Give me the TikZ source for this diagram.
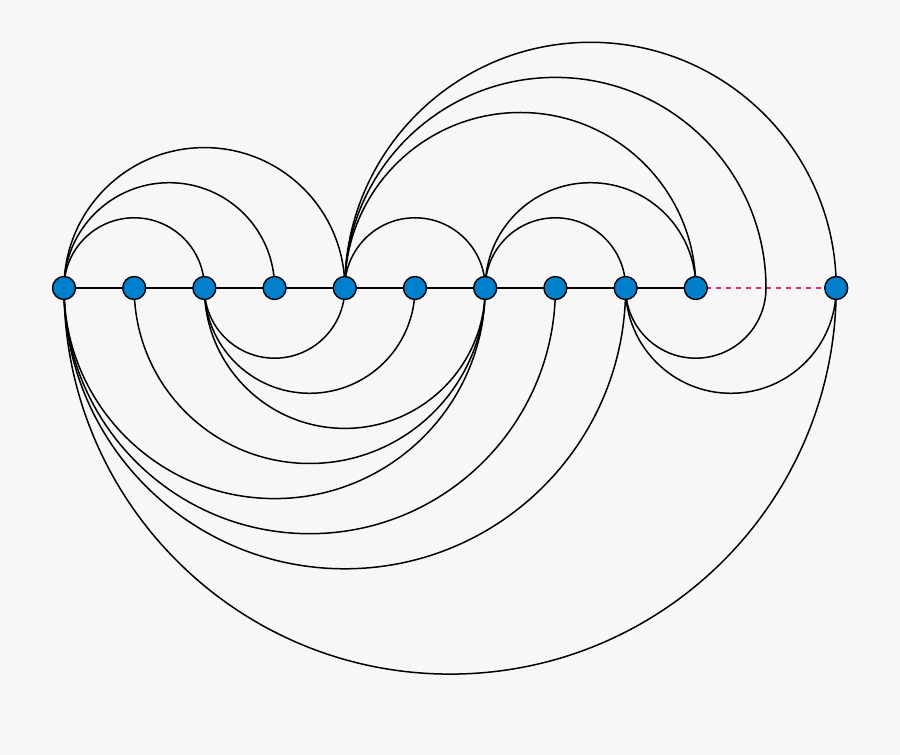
\documentclass[tikz,border=0pt]{standalone}
\definecolor{bg}{HTML}{F7F7F7}
\definecolor{vfill}{HTML}{0080CC}
\definecolor{dashred}{HTML}{D6336C}
\tikzset{
  vertex/.style={circle,draw=black,fill=vfill,line width=1.4pt,minimum size=23pt,inner sep=0pt},
  edge/.style={draw=black,line width=1.5pt},
  ghost/.style={draw=dashred,line width=1.4pt,dash pattern=on 5pt off 5pt}
}
\begin{document}
\begin{tikzpicture}[x=1pt,y=1pt]
\fill[bg] (0,0) rectangle (900,755);
\useasboundingbox (0,0) rectangle (900,755);
\def\s{70.2}
% vertices positions (nodes drawn last)
\foreach \i in {0,...,9} {\coordinate (p\i) at ({64+\s*\i},467);}
\coordinate (p11) at ({64+\s*11},467);
\coordinate (gap) at ({64+\s*10},467);
% baseline edges
\draw[edge] (p0) -- (p9);
\draw[ghost] (p9) -- (p11);
% upper arcs
\draw[edge] (p0) arc[start angle=180,end angle=0,radius={\s}];
\draw[edge] (p0) arc[start angle=180,end angle=0,radius={1.5*\s}];
\draw[edge] (p0) arc[start angle=180,end angle=0,radius={2*\s}];
\draw[edge] (p4) arc[start angle=180,end angle=0,radius={\s}];
\draw[edge] (p6) arc[start angle=180,end angle=0,radius={\s}];
\draw[edge] (p6) arc[start angle=180,end angle=0,radius={1.5*\s}];
\draw[edge] (p4) arc[start angle=180,end angle=0,radius={2.5*\s}];
\draw[edge] (p4) arc[start angle=180,end angle=0,radius={3*\s}] -- (gap)
  arc[start angle=0,end angle=-180,radius={\s}];
\draw[edge] (p4) arc[start angle=180,end angle=0,radius={3.5*\s}];
% lower arcs
\draw[edge] (p2) arc[start angle=180,end angle=360,radius={\s}];
\draw[edge] (p2) arc[start angle=180,end angle=360,radius={1.5*\s}];
\draw[edge] (p2) arc[start angle=180,end angle=360,radius={2*\s}];
\draw[edge] (p1) arc[start angle=180,end angle=360,radius={2.5*\s}];
\draw[edge] (p0) arc[start angle=180,end angle=360,radius={3*\s}];
\draw[edge] (p0) arc[start angle=180,end angle=360,radius={3.5*\s}];
\draw[edge] (p0) arc[start angle=180,end angle=360,radius={4*\s}];
\draw[edge] (p0) arc[start angle=180,end angle=360,radius={5.5*\s}];
\draw[edge] (p8) arc[start angle=180,end angle=360,radius={1.5*\s}];
% vertices
\foreach \i in {0,...,9,11} {\node[vertex] (n\i) at (p\i) {};}
\end{tikzpicture}
\end{document}
